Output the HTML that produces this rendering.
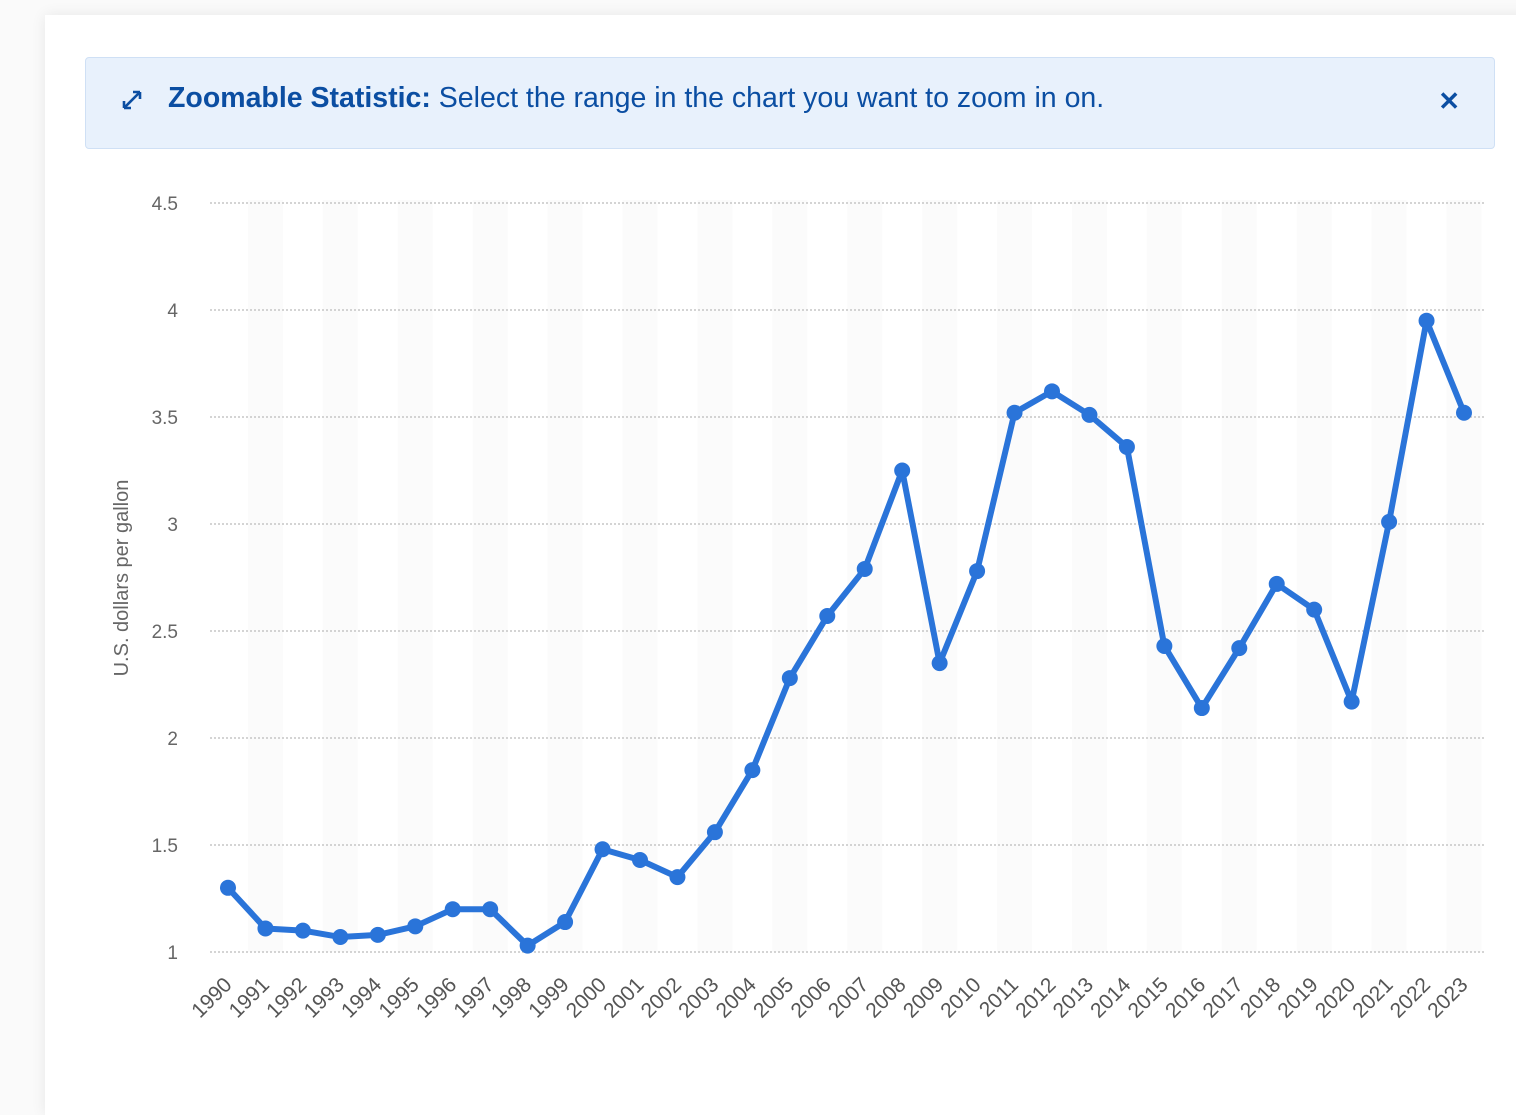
<!DOCTYPE html>
<html><head><meta charset="utf-8"><style>
body{margin:0;width:1516px;height:1070px;background:#fafafa;overflow:hidden;font-family:"Liberation Sans",sans-serif}
.card{position:absolute;left:45px;top:15px;width:1500px;height:1100px;background:#fff;box-shadow:0 0 14px rgba(0,0,0,0.08)}
.banner{position:absolute;left:85px;top:57px;width:1410px;height:92px;background:#e8f1fc;border:1px solid #cfe0f5;border-radius:4px;box-sizing:border-box}
.btxt{position:absolute;left:82px;top:24px;font-size:28.5px;color:#0b4ea2;white-space:nowrap}
.btxt b{font-weight:bold}
.close{position:absolute;right:34px;top:28px;font-size:26px;color:#0b4ea2;font-weight:bold}
svg{position:absolute;left:0;top:0}
</style></head><body>
<div class="card"></div>
<div class="banner">
<svg width="30" height="30" style="left:34px;top:28px"><path d="M4 22 L20 6 M4 22 v-7 M4 22 h7 M20 6 h-7 M20 6 v7" stroke="#0b4ea2" stroke-width="2.6" fill="none"/></svg>
<div class="btxt"><b>Zoomable Statistic:</b> Select the range in the chart you want to zoom in on.</div>
<div class="close">✕</div>
</div>
<svg id="c" width="1516" height="1070"></svg>
<script>
const years=[1990,1991,1992,1993,1994,1995,1996,1997,1998,1999,2000,2001,2002,2003,2004,2005,2006,2007,2008,2009,2010,2011,2012,2013,2014,2015,2016,2017,2018,2019,2020,2021,2022,2023];
const prices=[1.30,1.11,1.10,1.07,1.08,1.12,1.20,1.20,1.03,1.14,1.48,1.43,1.35,1.56,1.85,2.28,2.57,2.79,3.25,2.35,2.78,3.52,3.62,3.51,3.36,2.43,2.14,2.42,2.72,2.60,2.17,3.01,3.95,3.52];
const yTicks=[1,1.5,2,2.5,3,3.5,4,4.5];
const NS="http://www.w3.org/2000/svg";
const svg=document.getElementById('c');
const x0=228,step=(1464-228)/(years.length-1);
const xs=i=>x0+i*step;
const ys=v=>952-(v-1)*214;
function mk(t,a){const e=document.createElementNS(NS,t);for(const k in a)e.setAttribute(k,a[k]);svg.appendChild(e);return e;}
years.forEach((yr,i)=>{if(i%2===1){const r=mk('rect',{x:xs(i)-17.5,y:200,width:35,height:752,fill:'#fbfbfb'});

}});
yTicks.forEach(t=>{const l=mk('line',{x1:210,x2:1484,y1:ys(t),y2:ys(t),stroke:'#bbb','stroke-width':1.2,'stroke-dasharray':'2 2'});


const tx=mk('text',{x:178,y:ys(t)+7,'text-anchor':'end','font-size':19,fill:'#666'});tx.textContent=t;

});
years.forEach((yr,i)=>{const tx=mk('text',{x:xs(i)+5,y:986,'text-anchor':'end','font-size':21,fill:'#555',transform:`rotate(-45 ${xs(i)+5} 986)`});tx.textContent=yr;

});
const yt=mk('text',{x:0,y:0,'text-anchor':'middle','font-size':20,fill:'#666',transform:'translate(128 578) rotate(-90)'});yt.textContent='U.S. dollars per gallon';


const p=mk('polyline',{points:prices.map((v,i)=>xs(i)+','+ys(v)).join(' '),fill:'none',stroke:'#2a74d9','stroke-width':6,'stroke-linejoin':'round'});


prices.forEach((v,i)=>{const c=mk('circle',{cx:xs(i),cy:ys(v),r:8,fill:'#2a74d9'});

});
</script>
</body></html>
